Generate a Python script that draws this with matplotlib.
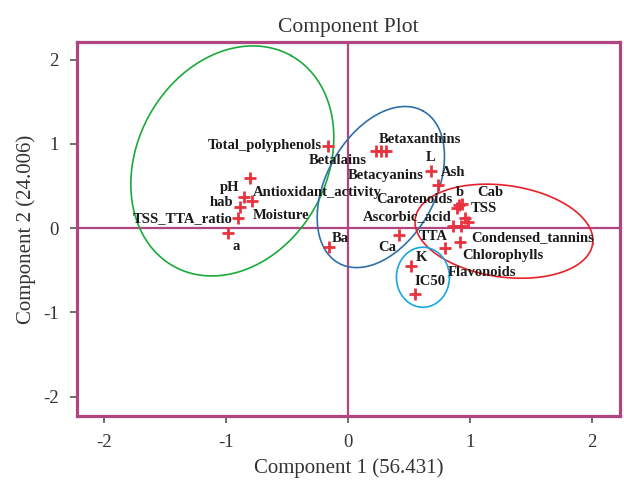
import numpy as np
import matplotlib
matplotlib.use("Agg")
import matplotlib.pyplot as plt

# ---------------- data ----------------
names = ["Total_polyphenols", "Betalains", "Betaxanthins", "Betacyanins", "L", "Ash",
         "b", "Cab", "TSS", "Carotenoids", "Ascorbic_acid", "Condensed_tannins", "TTA",
         "Chlorophylls", "Flavonoids", "K", "IC50", "Ca", "Ba",
         "pH", "hab", "Antioxidant_activity", "Moisture", "TSS_TTA_ratio", "a"]
comp1 = [-0.164, 0.230, 0.270, 0.311, 0.680, 0.738,
         0.910, 0.934, 0.893, 0.959, 0.861, 0.984, 0.926,
         0.918, 0.795, 0.516, 0.549, 0.418, -0.156,
         -0.803, -0.852, -0.787, -0.885, -0.902, -0.984]
comp2 = [0.976, 0.917, 0.917, 0.917, 0.679, 0.512,
         0.274, 0.286, 0.238, 0.119, 0.024, 0.071, 0.024,
         -0.167, -0.238, -0.452, -0.786, -0.083, -0.226,
         0.595, 0.369, 0.321, 0.250, 0.119, -0.060]
ticks = [-2, -1, 0, 1, 2]

# label offsets (pixels) and alignment
label_style = {
    "Total_polyphenols": (-6, 0, "right"),
    "Betalains": (-38, -10, "center"),
    "Betaxanthins": (-2, 11, "left"),
    "Betacyanins": (0, -25, "center"),
    "L": (0, 13, "center"),
    "Ash": (3, 13, "left"),
    "b": (1, 13, "center"),
    "Cab": (15, 12, "left"),
    "TSS": (14, 0, "left"),
    "Carotenoids": (-12, 19, "right"),
    "Ascorbic_acid": (-1, 10, "right"),
    "Condensed_tannins": (3, -15, "left"),
    "TTA": (-13, -10, "right"),
    "Chlorophylls": (2, -13, "left"),
    "Flavonoids": (3, -24, "left"),
    "K": (11, 9, "center"),
    "IC50": (15, 13, "center"),
    "Ca": (-12, -12, "center"),
    "Ba": (11, 9, "center"),
    "pH": (-11, -9, "right"),
    "hab": (-11, -5, "right"),
    "Antioxidant_activity": (1, 9, "left"),
    "Moisture": (13, -8, "left"),
    "TSS_TTA_ratio": (-5, 0, "right"),
    "a": (8, -13, "center"),
}

# ellipses: center (data), semi-axes (pixels), angle (deg), colour
ellipses = [
    ((-0.947, 0.798), 120.6, 94.8, 60.9, "#1aaa3a"),
    ((0.270, 0.488), 87.0, 54.5, 61.0, "#2f6fa8"),
    ((1.279, -0.036), 89.6, 45.8, -8.0, "#e8202a"),
    ((0.615, -0.583), 26.5, 30.0, 0.0, "#1aa6e0"),
]

frame_color = "#b0457f"
serif = ["Liberation Serif", "DejaVu Serif"]

fig = plt.figure(figsize=(6.24, 4.82), dpi=100)
ax = fig.add_axes([77/624, 1-416/482, (620-77)/624, (416-42)/482])
ax.set_xlim(-2.22, 2.23)
ax.set_ylim(-2.23, 2.21)

for s in ax.spines.values():
    s.set_color(frame_color)
    s.set_linewidth(2.3)

ax.axhline(0, color=frame_color, lw=1.6, zorder=1)
ax.axvline(0, color=frame_color, lw=1.6, zorder=1)

ax.plot(comp1, comp2, linestyle="none", marker="+", markersize=8,
        markeredgewidth=2.0, color="#e8333f", zorder=3)

for n, x, y in zip(names, comp1, comp2):
    dx, dy, ha = label_style[n]
    ax.annotate(n, (x, y), xytext=(dx, dy), textcoords="offset pixels",
                ha=ha, va="center", fontsize=10.5, fontweight="bold",
                family=serif, color="#1a1a1a", zorder=4)

# draw ellipses in display space for exact pixel shape
t = np.linspace(0, 2*np.pi, 300)
for (cx, cy), a, b, ang, col in ellipses:
    cdisp = ax.transData.transform((cx, cy))
    th = np.deg2rad(ang)
    ex = a*np.cos(t)*np.cos(th) - b*np.sin(t)*np.sin(th)
    ey = a*np.cos(t)*np.sin(th) + b*np.sin(t)*np.cos(th)
    pts = np.column_stack([cdisp[0] + ex, cdisp[1] + ey])
    dat = ax.transData.inverted().transform(pts)
    ax.plot(dat[:, 0], dat[:, 1], color=col, lw=1.2, zorder=2)

ax.set_xticks(ticks)
ax.set_yticks(ticks)
ax.set_xticklabels([str(v) for v in ticks], family=serif, fontsize=13.5, color="#333333")
ax.set_yticklabels([str(v) for v in ticks], family=serif, fontsize=13.5, color="#333333")
ax.tick_params(length=5, width=1.2, color="#555555", pad=8)

ax.set_xlabel("Component 1 (56.431)", family=serif, fontsize=15, color="#333333", labelpad=5)
ax.set_ylabel("Component 2 (24.006)", family=serif, fontsize=15, color="#333333", labelpad=5)
ax.set_title("Component Plot", family=serif, fontsize=15.5, color="#333333", pad=7)

fig.savefig("out.png", dpi=100)
